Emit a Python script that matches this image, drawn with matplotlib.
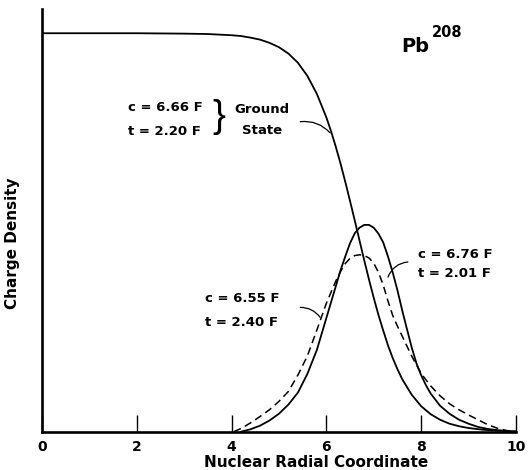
import matplotlib
matplotlib.use("Agg")
import matplotlib.pyplot as plt

# Ground state charge density (c = 6.66 F, t = 2.20 F)
gs_r = [0.0, 1.0, 2.0, 3.0, 3.5, 4.0, 4.2, 4.4, 4.6, 4.8, 5.0, 5.2, 5.4, 5.6,
        5.8, 6.0, 6.1, 6.2, 6.3, 6.4, 6.5, 6.6, 6.7, 6.8, 6.9, 7.0, 7.1, 7.2,
        7.3, 7.4, 7.5, 7.6, 7.8, 8.0, 8.2, 8.4, 8.6, 8.8, 9.0, 9.3, 9.6, 10.0]
gs_rho = [1.0, 1.0, 1.0, 0.999, 0.998, 0.995, 0.993, 0.989, 0.984, 0.976,
          0.965, 0.949, 0.926, 0.893, 0.848, 0.789, 0.754, 0.715, 0.673,
          0.627, 0.579, 0.530, 0.480, 0.430, 0.382, 0.336, 0.293, 0.254,
          0.217, 0.185, 0.157, 0.132, 0.093, 0.064, 0.044, 0.030, 0.020,
          0.0137, 0.0092, 0.005, 0.0028, 0.0012]

# Transition density, solid (c = 6.76 F, t = 2.01 F)
tr1_r = [4.2, 4.4, 4.6, 4.8, 5.0, 5.2, 5.4, 5.6, 5.8, 6.0, 6.1, 6.2, 6.3, 6.4,
         6.5, 6.6, 6.7, 6.8, 6.9, 7.0, 7.1, 7.2, 7.3, 7.4, 7.5, 7.6, 7.7, 7.8,
         7.9, 8.0, 8.1, 8.2, 8.4, 8.6, 8.8, 9.0, 9.2, 9.4, 9.6, 9.8]
tr1_rho = [0.0, 0.006, 0.015, 0.028, 0.045, 0.068, 0.098, 0.145, 0.205, 0.285,
           0.325, 0.365, 0.405, 0.44, 0.473, 0.498, 0.512, 0.519, 0.519, 0.512,
           0.497, 0.475, 0.44, 0.40, 0.355, 0.305, 0.258, 0.212, 0.172, 0.142,
           0.117, 0.096, 0.065, 0.045, 0.03, 0.02, 0.012, 0.007, 0.004, 0.001]

# Transition density, dashed (c = 6.55 F, t = 2.40 F)
tr2_r = [4.05, 4.2, 4.4, 4.6, 4.8, 5.0, 5.2, 5.4, 5.6, 5.8, 6.0, 6.1, 6.2, 6.3,
         6.4, 6.5, 6.6, 6.7, 6.8, 6.9, 7.0, 7.1, 7.2, 7.3, 7.4, 7.5, 7.6, 7.7,
         7.8, 7.9, 8.0, 8.2, 8.4, 8.6, 8.8, 9.0, 9.2, 9.4, 9.6, 9.8, 10.0]
tr2_rho = [0.0, 0.008, 0.022, 0.038, 0.055, 0.076, 0.101, 0.142, 0.19, 0.255,
           0.322, 0.35, 0.378, 0.402, 0.422, 0.435, 0.442, 0.444, 0.442,
           0.436, 0.423, 0.40, 0.368, 0.328, 0.292, 0.265, 0.24, 0.215, 0.19,
           0.168, 0.146, 0.115, 0.09, 0.07, 0.055, 0.042, 0.03, 0.018, 0.009,
           0.003, 0.0]

xticks = [0, 2, 4, 6, 8, 10]
xticklabels = ["0", "2", "4", "6", "8", "10"]

plt.rcParams['font.family'] = ['DejaVu Sans']

fig = plt.figure(figsize=(5.29, 4.70), dpi=100)
ax = fig.add_axes([0.0792, 0.0815, 0.8961, 0.8995])

ax.plot(gs_r, gs_rho, color='black', lw=1.3, solid_joinstyle='round')
ax.plot(tr1_r, tr1_rho, color='black', lw=1.3, solid_joinstyle='round')
ax.plot(tr2_r, tr2_rho, color='black', lw=1.1, linestyle=(0, (5, 3)))

ax.set_xlim(0, 10)
ax.set_ylim(0, 1.061)
for s in ['top', 'right']:
    ax.spines[s].set_visible(False)
for s in ['left', 'bottom']:
    ax.spines[s].set_linewidth(1.9)
    ax.spines[s].set_color('black')

ax.set_xticks(xticks)
ax.set_xticklabels(xticklabels, fontsize=10, fontweight='bold')
ax.tick_params(axis='x', direction='in', length=12, width=1.0, pad=6)
ax.set_yticks([])

ax.set_xlabel("Nuclear Radial Coordinate", fontsize=11, fontweight='bold')
ax.xaxis.set_label_coords(0.578, -0.055)
ax.set_ylabel("Charge Density", fontsize=11, fontweight='bold')
ax.yaxis.set_label_coords(-0.046, 0.446)

# Nucleus label
ax.text(7.59, 0.954, "Pb", fontsize=14, fontweight='bold', ha='left', va='baseline')
ax.text(8.22, 0.99, "208", fontsize=10.5, fontweight='bold', ha='left', va='baseline')

tkw = dict(fontsize=9.5, fontweight='bold', ha='left', va='baseline')
# Ground state labels
ax.text(1.82, 0.806, "c = 6.66 F", **tkw)
ax.text(1.82, 0.745, "t = 2.20 F", **tkw)
ax.text(3.6, 0.79, "}", fontsize=28, family='Liberation Sans', ha='left', va='center')
ax.text(4.07, 0.80, "Ground", **tkw)
ax.text(4.22, 0.748, "State", **tkw)
ax.annotate("", xy=(6.08, 0.750), xytext=(5.45, 0.778),
            arrowprops=dict(arrowstyle='-', lw=0.9, color='black',
                            connectionstyle='arc3,rad=-0.25',
                            shrinkA=0, shrinkB=0))

# Transition labels (right)
ax.text(7.94, 0.436, "c = 6.76 F", **tkw)
ax.text(7.94, 0.387, "t = 2.01 F", **tkw)
ax.annotate("", xy=(7.30, 0.388), xytext=(7.72, 0.426),
            arrowprops=dict(arrowstyle='-', lw=0.9, color='black',
                            connectionstyle='arc3,rad=0.3',
                            shrinkA=0, shrinkB=0))

# Transition labels (left)
ax.text(3.44, 0.325, "c = 6.55 F", **tkw)
ax.text(3.44, 0.265, "t = 2.40 F", **tkw)
ax.annotate("", xy=(5.87, 0.287), xytext=(5.45, 0.312),
            arrowprops=dict(arrowstyle='-', lw=0.9, color='black',
                            connectionstyle='arc3,rad=-0.25',
                            shrinkA=0, shrinkB=0))

fig.savefig("out.png", dpi=100)
